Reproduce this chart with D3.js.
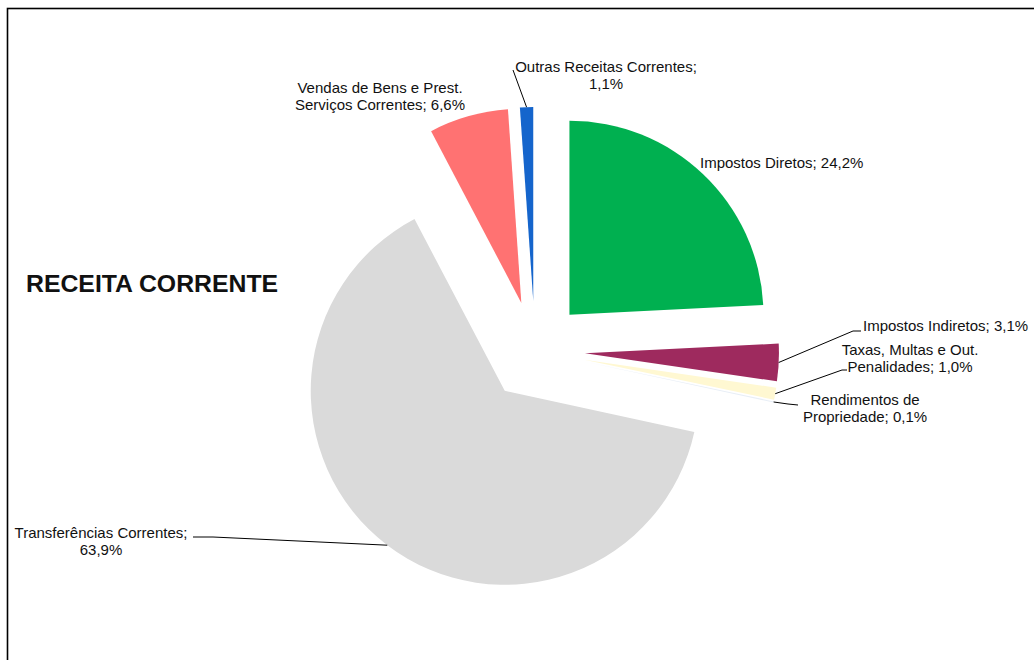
<!DOCTYPE html>
<html>
<head>
<meta charset="utf-8">
<script src="https://cdn.jsdelivr.net/npm/d3@7/dist/d3.min.js"></script>
<style>
  html, body { margin: 0; padding: 0; background: #fff; }
  svg { display: block; }
  text { font-family: "Liberation Sans", Arial, sans-serif; }
</style>
</head>
<body>
<svg id="chart" width="1034" height="660"></svg>
<script>
// ---- data ----
const title = "RECEITA CORRENTE";
const categories = [
  "Impostos Diretos",
  "Impostos Indiretos",
  "Taxas, Multas e Out. Penalidades",
  "Rendimentos de Propriedade",
  "Transferências Correntes",
  "Vendas de Bens e Prest. Serviços Correntes",
  "Outras Receitas Correntes"
];
const values = [24.2, 3.1, 1.0, 0.1, 63.9, 6.6, 1.1];

// ---- style / layout ----
const colors = ["#00B050", "#9E2A5E", "#FFF8D2", "#E8EEF6", "#DADADA", "#FF7272", "#1565CC"];
const W = 1034, H = 660;
const cx = 535, cy = 351, R = 194, explode = 50;
// label layout: x, baseline y, anchor, words on first line (0 = single line), leader points
const labelLayout = [
  { x: 700, y: 168, anchor: "start", brk: 0, leader: null },
  { x: 863, y: 331, anchor: "start", brk: 0, leader: [[853, 331], [861, 331]] },
  { x: 910, y: 355, anchor: "middle", brk: 4, leader: [[842, 370], [847, 370]] },
  { x: 865, y: 405, anchor: "middle", brk: 2, leader: [[788, 404], [798, 405]] },
  { x: 101, y: 538, anchor: "middle", brk: 2, leader: [[213, 537], [193, 537]] },
  { x: 380, y: 93, anchor: "middle", brk: 5, leader: null },
  { x: 606, y: 72, anchor: "middle", brk: 3, leader: [[513, 70]] }
];
const lineH = 16.5;

const svg = d3.select("#chart");
svg.append("rect").attr("width", W).attr("height", H).attr("fill", "#fff");
svg.append("rect")
  .attr("x", 7.5).attr("y", 8.5).attr("width", 1100).attr("height", 800)
  .attr("fill", "none").attr("stroke", "#000").attr("stroke-width", 1.6);

const data = categories.map((c, i) => ({ cat: c, value: values[i], i }));
const pie = d3.pie().value(d => d.value).sort(null).startAngle(0).endAngle(2 * Math.PI);
const arcs = pie(data);
const arc = d3.arc().innerRadius(0).outerRadius(R);
const fmt = v => d3.format(".1f")(v).replace(".", ",");

const g = svg.append("g").attr("transform", `translate(${cx},${cy})`);

function offset(a) {
  const m = (a.startAngle + a.endAngle) / 2;
  return [Math.sin(m) * explode, -Math.cos(m) * explode];
}

g.selectAll("path.slice").data(arcs).enter().append("path")
  .attr("class", "slice")
  .attr("d", arc)
  .attr("fill", d => colors[d.data.i])
  .attr("transform", d => { const o = offset(d); return `translate(${o[0]},${o[1]})`; });

// leader lines
const leaderG = svg.append("g");
arcs.forEach(a => {
  const L = labelLayout[a.data.i];
  if (!L.leader) return;
  const m = (a.startAngle + a.endAngle) / 2;
  const o = offset(a);
  const sx = cx + o[0] + Math.sin(m) * R;
  const sy = cy + o[1] - Math.cos(m) * R;
  const pts = [[sx, sy]].concat(L.leader);
  leaderG.append("path")
    .attr("d", d3.line()(pts))
    .attr("fill", "none").attr("stroke", "#000").attr("stroke-width", 1);
});

// labels
const labelG = svg.append("g");
arcs.forEach(a => {
  const L = labelLayout[a.data.i];
  const full = `${a.data.cat}; ${fmt(a.data.value)}%`;
  const words = full.split(" ");
  const lines = L.brk ? [words.slice(0, L.brk).join(" "), words.slice(L.brk).join(" ")] : [full];
  const t = labelG.append("text")
    .attr("x", L.x).attr("y", L.y)
    .attr("text-anchor", L.anchor)
    .attr("font-size", 15).attr("fill", "#111");
  lines.forEach((ln, k) => {
    t.append("tspan").attr("x", L.x).attr("dy", k === 0 ? 0 : lineH).text(ln);
  });
});

svg.append("text")
  .attr("x", 26).attr("y", 292)
  .attr("font-size", 24.8).attr("font-weight", "bold").attr("fill", "#111")
  .text(title);
</script>
</body>
</html>
